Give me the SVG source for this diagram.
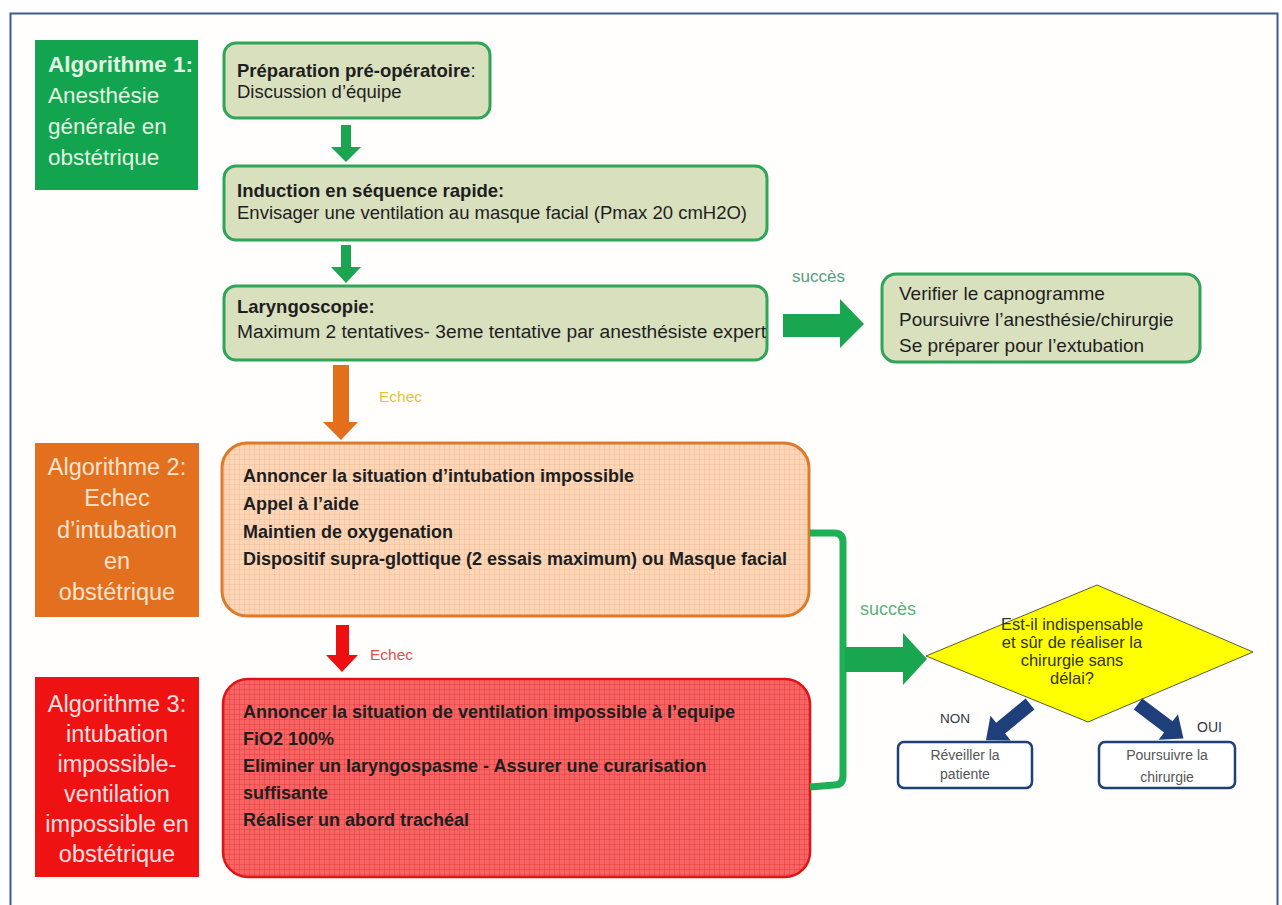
<svg xmlns="http://www.w3.org/2000/svg" width="1282" height="905" viewBox="0 0 1282 905">
<defs>
<pattern id="gridO" width="5" height="5" patternUnits="userSpaceOnUse"><rect width="5" height="5" fill="#fcd6b7"/><path d="M4.7 0V5M0 4.7H5" stroke="#f0bb94" stroke-width="0.6"/></pattern>
<pattern id="gridR" width="5" height="5" patternUnits="userSpaceOnUse"><rect width="5" height="5" fill="#f96565"/><path d="M4.7 0V5M0 4.7H5" stroke="#e03a3a" stroke-width="0.6"/></pattern>
<style>
text{font-family:"Liberation Sans",Arial,sans-serif;}
.gbox{fill:#d9e0be;stroke:#2fa558;stroke-width:3;}
.t{font-size:18px;fill:#1e1e1e;}
.tg{font-size:18.5px;fill:#1e1e1e;}
.b{font-weight:bold;}
.lab1{font-size:22.5px;fill:#e2f4e2;}
.lab{font-size:23.5px;text-anchor:middle;}
.garrow{fill:#1aa650;}
.navy{fill:#1f3f7a;}
.dtext{font-size:16.5px;fill:#33331a;text-anchor:middle;}
.small{font-size:14px;fill:#555;text-anchor:middle;}
</style>
</defs>
<rect x="0" y="0" width="1282" height="905" fill="#ffffff"/>
<rect x="10.5" y="13.5" width="1267" height="900" fill="#fffefc" stroke="#3d5b8c" stroke-width="2"/>

<g id="alg1">
<rect x="35" y="40" width="163" height="150" fill="#12a44e"/>
<text class="lab1 b" x="48" y="72">Algorithme 1:</text>
<text class="lab1" x="48" y="103">Anesthésie</text>
<text class="lab1" x="48" y="134">générale en</text>
<text class="lab1" x="48" y="165">obstétrique</text>
</g>

<g id="prep">
<rect class="gbox" x="224" y="43" width="266" height="75" rx="12"/>
<text class="tg" x="237" y="77"><tspan class="b">Préparation pré-opératoire</tspan>:</text>
<text class="tg" x="237" y="98">Discussion d’équipe</text>
</g>

<g id="induction">
<rect class="gbox" x="224" y="166" width="543" height="74" rx="12"/>
<text class="tg b" x="237" y="197">Induction en séquence rapide:</text>
<text class="tg" x="237" y="219">Envisager une ventilation au masque facial (Pmax 20 cmH2O)</text>
</g>

<g id="laryngo">
<rect class="gbox" x="224" y="286" width="543" height="74" rx="12"/>
<text class="tg b" x="237" y="313">Laryngoscopie:</text>
<text class="tg" style="font-size:19.2px" x="237" y="338">Maximum 2 tentatives- 3eme tentative par anesthésiste expert</text>
</g>

<g id="succes1">
<rect class="gbox" x="882" y="274" width="318" height="88" rx="14"/>
<text class="t" style="font-size:19px" x="899" y="300">Verifier le capnogramme</text>
<text class="t" style="font-size:19px" x="899" y="326">Poursuivre l’anesthésie/chirurgie</text>
<text class="t" style="font-size:19px" x="899" y="352">Se préparer pour l’extubation</text>
</g>

<g id="alg2">
<rect x="35" y="443" width="164" height="174" fill="#e2701f"/>
<text class="lab" fill="#fde3cf" x="117" y="475">Algorithme 2:</text>
<text class="lab" fill="#fde3cf" x="117" y="506">Echec</text>
<text class="lab" fill="#fde3cf" x="117" y="538">d’intubation</text>
<text class="lab" fill="#fde3cf" x="117" y="569">en</text>
<text class="lab" fill="#fde3cf" x="117" y="600">obstétrique</text>
</g>

<g id="intubation-impossible">
<rect x="222" y="443" width="587" height="173" rx="25" fill="url(#gridO)" stroke="#e07a2a" stroke-width="3"/>
<text class="t b" x="243" y="482">Annoncer la situation d’intubation impossible</text>
<text class="t b" x="243" y="510">Appel à l’aide</text>
<text class="t b" x="243" y="538">Maintien de oxygenation</text>
<text class="t b" x="243" y="565">Dispositif supra-glottique (2 essais maximum) ou Masque facial</text>
</g>

<g id="alg3">
<rect x="35" y="677" width="164" height="200" fill="#ee1212"/>
<text class="lab" fill="#fde0e0" x="117" y="712">Algorithme 3:</text>
<text class="lab" fill="#fde0e0" x="117" y="742">intubation</text>
<text class="lab" fill="#fde0e0" x="117" y="772">impossible-</text>
<text class="lab" fill="#fde0e0" x="117" y="802">ventilation</text>
<text class="lab" fill="#fde0e0" x="117" y="832">impossible en</text>
<text class="lab" fill="#fde0e0" x="117" y="862">obstétrique</text>
</g>

<g id="ventilation-impossible">
<rect x="223" y="679" width="587" height="198" rx="25" fill="url(#gridR)" stroke="#e01414" stroke-width="2.5"/>
<text class="t b" fill="#2a0a0a" x="243" y="718">Annoncer la situation de ventilation impossible à l’equipe</text>
<text class="t b" fill="#2a0a0a" x="243" y="745">FiO2 100%</text>
<text class="t b" fill="#2a0a0a" x="243" y="772">Eliminer un laryngospasme - Assurer une curarisation</text>
<text class="t b" fill="#2a0a0a" x="243" y="799">suffisante</text>
<text class="t b" fill="#2a0a0a" x="243" y="826">Réaliser un abord trachéal</text>
</g>

<g id="decision">
<polygon points="926,656 1097,585 1253,652 1088,722" fill="#ffff00" stroke="#5a5a3a" stroke-width="1"/>
<text class="dtext" x="1072" y="630">Est-il indispensable</text>
<text class="dtext" x="1072" y="648">et sûr de réaliser la</text>
<text class="dtext" x="1072" y="666">chirurgie sans</text>
<text class="dtext" x="1072" y="684">délai?</text>
</g>

<g id="reveiller">
<rect x="898" y="742" width="134" height="46" rx="6" fill="#ffffff" stroke="#1f3f7a" stroke-width="2.5"/>
<text class="small" x="965" y="760">Réveiller la</text>
<text class="small" x="965" y="779">patiente</text>
</g>

<g id="poursuivre">
<rect x="1099" y="742" width="136" height="46" rx="6" fill="#ffffff" stroke="#1f3f7a" stroke-width="2.5"/>
<text class="small" x="1167" y="760">Poursuivre la</text>
<text class="small" x="1167" y="782">chirurgie</text>
</g>

<g id="connectors">
<polygon class="garrow" points="341,125 351,125 351,147 361,147 346,162 331,147 341,147"/>
<polygon class="garrow" points="341,245 351,245 351,267 361,267 346,283 331,267 341,267"/>
<polygon fill="#e36f1c" points="333,365 349,365 349,422 358,422 341,440 323,422 333,422"/>
<polygon fill="#ee1010" points="336,625 349,625 349,655 358,655 342,672 326,655 336,655"/>
<polygon class="garrow" points="783,314 840,314 840,299 864,324 840,348 840,337 783,337"/>
<path d="M810 533 H834 Q843 533 843 542 V776 Q843 785 834 785 L810 787" fill="none" stroke="#1db054" stroke-width="7"/>
<polygon class="garrow" points="845,647 903,647 903,633 927,659 903,685 903,672 845,672"/>
<polygon class="navy" transform="translate(1030,704) rotate(50.6)" points="-7,0 7,0 7,38 16,38 0,57 -16,38 -7,38"/>
<polygon class="navy" transform="translate(1138,704) rotate(-52.9)" points="-7,0 7,0 7,38 16,38 0,57 -16,38 -7,38"/>
<text x="792" y="282" style="font-size:17px" fill="#5a9c82">succès</text>
<text x="379" y="402" style="font-size:15.5px" fill="#e6c23a">Echec</text>
<text x="370" y="660" style="font-size:15.5px" fill="#e05050">Echec</text>
<text x="860" y="615" style="font-size:18px" fill="#5cb07a">succès</text>
<text x="940" y="723" style="font-size:13.5px" fill="#334">NON</text>
<text x="1197" y="732" style="font-size:14px" fill="#334">OUI</text>
</g>
</svg>
